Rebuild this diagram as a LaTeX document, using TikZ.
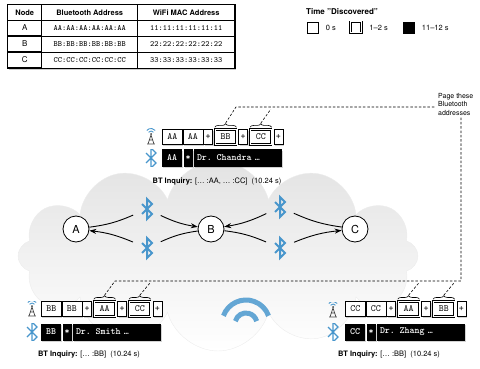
\documentclass[tikz,border=0pt]{standalone}
\usepackage{fontspec}
\setmainfont{TeX Gyre Heros}
\usepackage{tikz}
\usetikzlibrary{positioning,shapes.symbols,shadows,decorations.pathreplacing,arrows.meta,calc,matrix}

\definecolor{btblue}{RGB}{72,150,204}
\definecolor{towergray}{RGB}{70,70,70}

\newcommand{\chipfont}{\fontsize{9.5}{10}\selectfont\ttfamily}
\newcommand{\tagfont}{\fontsize{9.5}{10}\selectfont\ttfamily\bfseries}
\newcommand{\lblfont}{\fontsize{7.5}{9}\selectfont}

\tikzset{
  chip/.style={draw, fill=white, line width=0.6pt, inner sep=0pt, minimum height=15pt,
               minimum width=20pt, font=\chipfont,
               drop shadow={opacity=0.35, shadow xshift=1pt, shadow yshift=-1.2pt}},
  pluschip/.style={chip, minimum width=9pt},
  seen/.style={chip, double, double distance=0.9pt, minimum width=21pt},
  tagcell/.style={fill=black, text=white, inner sep=0pt, minimum height=17pt,
                  minimum width=20pt, font=\tagfont,
                  drop shadow={opacity=0.35, shadow xshift=1pt, shadow yshift=-1.2pt}},
  namecell/.style={tagcell, text width=82pt, inner xsep=3pt, align=left},
  station/.style={circle, draw, fill=white, line width=0.8pt, minimum size=26pt,
                  inner sep=0pt, font=\fontsize{11}{12}\selectfont},
  btsign/.style={inner sep=0pt, path picture={
      \draw[btblue, line width=#1*2pt, shift={(path picture bounding box.center)}, scale=#1]
        (-5,5) -- (5,-5) -- (0,-10) -- (0,10) -- (5,5) -- (-5,-5);}},
  btlink/.style={circle, minimum size=30pt, btsign=1},
  btsmall/.style={minimum width=12pt, minimum height=17pt, btsign=0.7},
  antenna/.style={minimum width=12pt, minimum height=16pt, inner sep=0pt, path picture={
      \begin{scope}[shift={(path picture bounding box.center)}]
        \draw[btblue, line width=0.9pt] (0,-3) ++(-145:3) arc[start angle=-145, end angle=-35, radius=3];
        \draw[btblue, line width=0.9pt] (0,-3) ++(-140:5.5) arc[start angle=-140, end angle=-40, radius=5.5];
        \fill[towergray] (0,-3) circle (1pt);
        \draw[towergray, line width=0.7pt] (-3,7) -- (0,-2) -- (3,7) (-1.6,3) -- (1.6,3) (-3.8,7) -- (3.8,7);
      \end{scope}}},
  brc/.style={decorate, decoration={brace, amplitude=3.5pt}, line width=0.6pt},
  pageline/.style={line width=0.6pt, dash pattern=on 2.5pt off 1.8pt},
  link/.style={line width=0.9pt},
  legbox/.style={draw, line width=0.8pt, minimum size=11pt, inner sep=0pt,
                 drop shadow={opacity=0.4, shadow xshift=1pt, shadow yshift=-1.2pt}},
}

\begin{document}
\begin{tikzpicture}[x=1pt, y=-1pt]
\useasboundingbox (0,0) rectangle (480,369);

\node[cloud, cloud puffs=12, aspect=2.1, minimum width=400pt, minimum height=190pt,
      top color=gray!22, bottom color=white, draw=gray!15] (sky) at (218,256) {};
\coordinate (hub) at (246,324);
\draw[btblue!85, line width=5pt] (hub) ++(-160:24) arc[start angle=-160, end angle=-20, radius=24];
\draw[btblue!85, line width=5pt] (hub) ++(-165:11) arc[start angle=-165, end angle=-15, radius=11];

\matrix (addr) [matrix of nodes, anchor=north west, draw, line width=0.9pt, inner sep=0pt,
                column sep=-0.5pt, row sep=-0.5pt, fill=white,
                drop shadow={opacity=0.4, shadow xshift=1.2pt, shadow yshift=-1.5pt},
                nodes={draw, line width=0.5pt, inner sep=0pt, minimum height=15.5pt,
                       font=\fontsize{8}{9}\selectfont\ttfamily},
                column 1/.style={nodes={minimum width=34pt, font=\fontsize{8}{9}\selectfont}},
                column 2/.style={nodes={minimum width=96pt}},
                column 3/.style={nodes={minimum width=97pt}},
                row 1/.style={nodes={font=\fontsize{7.5}{9}\selectfont\bfseries}}] at (7,4) {
  Node & Bluetooth Address & WiFi MAC Address \\
  A & AA:AA:AA:AA:AA:AA & 11:11:11:11:11:11 \\
  B & BB:BB:BB:BB:BB:BB & 22:22:22:22:22:22 \\
  C & CC:CC:CC:CC:CC:CC & 33:33:33:33:33:33 \\
};

\node[font=\fontsize{8}{9}\selectfont\bfseries, anchor=west, inner sep=0pt] (ltitle) at (306,12) {Time "Discovered"};
\node[legbox, fill=white] (l0) at (312.5,27.5) {};
\node[right=4pt of l0, font=\lblfont] (l0t) {0 s};
\node[legbox, fill=white, double, double distance=1pt] (l1) at (356,27.5) {};
\node[right=4pt of l1, font=\lblfont] (l1t) {1--2 s};
\node[legbox, fill=black] (l2) at (408.5,27.5) {};
\node[right=4pt of l2, font=\lblfont] (l2t) {11--12 s};

\node[station] (A) at (76,229) {A};
\node[station] (B) at (211,229) {B};
\node[station] (C) at (355,229) {C};
\node[btlink] (bt1) at (147,209) {};
\node[btlink] (bt2) at (147,248) {};
\node[btlink] (bt3) at (280,207) {};
\node[btlink] (bt4) at (280,248) {};

\draw[link] (A) to[bend right=8] (bt1);
\draw[link, -{Stealth[length=7pt, width=5pt]}] (bt1) to[bend right=8] (B);
\draw[link] (B) to[bend right=8] (bt2);
\draw[link, -{Stealth[length=7pt, width=5pt]}] (bt2) to[bend right=8] (A);
\draw[link] (C) to[bend left=8] (bt3);
\draw[link, -{Stealth[length=7pt, width=5pt]}] (bt3) to[bend left=8] (B);
\draw[link] (B) to[bend left=8] (bt4);
\draw[link, -{Stealth[length=7pt, width=5pt]}] (bt4) to[bend left=8] (C);

\node[antenna] (cant) at (151,137) {};
\node[btsmall] (cbt) at (151,158) {};
\node[chip, anchor=west] (c1) at (162,137) {AA};
\node[chip, right=0pt of c1] (c2) {AA};
\node[pluschip, right=0pt of c2] (c3) {+};
\node[seen, right=2pt of c3] (c4) {BB};
\node[pluschip, right=2pt of c4] (c5) {+};
\node[seen, right=2pt of c5] (c6) {CC};
\node[pluschip, right=2pt of c6] (c7) {+};
\node[tagcell, anchor=west] (ct1) at (162,158) {AA};
\node[tagcell, minimum width=9pt, right=1pt of ct1] (ct2) {*};
\node[namecell, right=1pt of ct2] (ct3) {Dr. Chandra …};
\node[font=\lblfont] (cinq) at (217,182) {\textbf{BT Inquiry:} [… :AA, … :CC]\ \ (10.24 s)};

\node[antenna] (sant) at (32,309) {};
\node[btsmall] (sbt) at (32,332) {};
\node[chip, anchor=west] (s1) at (41,309) {BB};
\node[chip, right=0pt of s1] (s2) {BB};
\node[pluschip, right=0pt of s2] (s3) {+};
\node[seen, right=2pt of s3] (s4) {AA};
\node[pluschip, right=2pt of s4] (s5) {+};
\node[seen, right=2pt of s5] (s6) {CC};
\node[pluschip, right=2pt of s6] (s7) {+};
\node[tagcell, anchor=west] (st1) at (41,332) {BB};
\node[tagcell, minimum width=9pt, right=1pt of st1] (st2) {*};
\node[namecell, right=1pt of st2] (st3) {Dr. Smith …};
\node[font=\lblfont] (sinq) at (89,355) {\textbf{BT Inquiry:} [… :BB]\ \ (10.24 s)};

\node[antenna] (zant) at (333,310) {};
\node[btsmall] (zbt) at (333,332) {};
\node[chip, anchor=west] (z1) at (345,309) {CC};
\node[chip, right=0pt of z1] (z2) {CC};
\node[pluschip, right=0pt of z2] (z3) {+};
\node[seen, right=2pt of z3] (z4) {AA};
\node[pluschip, right=2pt of z4] (z5) {+};
\node[seen, right=2pt of z5] (z6) {BB};
\node[pluschip, right=2pt of z6] (z7) {+};
\node[tagcell, anchor=west] (zt1) at (345,332) {CC};
\node[tagcell, minimum width=9pt, right=1pt of zt1] (zt2) {*};
\node[namecell, right=1pt of zt2] (zt3) {Dr. Zhang …};
\node[font=\lblfont] (zinq) at (389,355) {\textbf{BT Inquiry:} [… :BB]\ \ (10.24 s)};

\foreach \n in {c4,c6,s4,s6,z4,z6}{
  \draw[brc] ([yshift=2pt]\n.north west) -- ([yshift=2pt]\n.north east);
  \coordinate (\n tip) at ($(\n.north)+(0,-6)$);
}

\node[font=\fontsize{7}{8.5}\selectfont, align=left, anchor=north west, inner sep=0pt] (page) at (438,93) {Page these\\Bluetooth\\addresses};
\coordinate (jt) at (236,107);
\coordinate (jl) at (115,281);
\coordinate (jr) at (461,281);

\draw[pageline] (c4tip) -- (jt) -- ([xshift=-3pt]page.west |- jt);
\draw[pageline] (c6tip) -- ++(10,-14);
\draw[pageline] ([yshift=-2pt]page.south -| jr) -- (jr) -- (jl) -- (s4tip);
\draw[pageline] (s6tip) -- ++(10,-12);
\draw[pageline] (z4tip) -- ++(10,-12);
\draw[pageline] (z6tip) -- ++(10,-12);
\end{tikzpicture}
\end{document}
